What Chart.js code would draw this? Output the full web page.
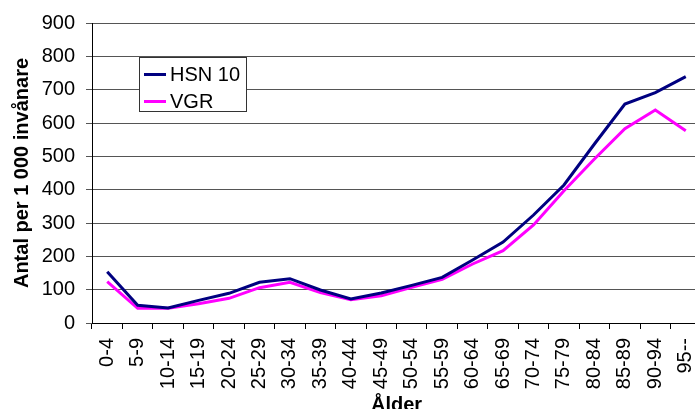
<!DOCTYPE html>
<html>
<head>
<meta charset="utf-8">
<script src="https://cdn.jsdelivr.net/npm/chart.js@4/dist/chart.umd.min.js"></script>
<style>
  html, body { margin: 0; padding: 0; background: #fff; overflow: hidden; }
  #wrap { position: relative; width: 702px; height: 420px; }
  #legend {
    position: absolute; left: 139px; top: 57px; width: 106px; height: 53px;
    border: 1px solid #333; background: #fff;
    font-family: 'Liberation Sans', Arial, sans-serif; font-size: 20px; color: #000;
  }
  #legend .row { position: absolute; left: 4px; height: 24px; line-height: 24px; white-space: nowrap; }
  #legend .swatch { display: inline-block; width: 22px; height: 3px; vertical-align: middle; margin-right: 4px; position: relative; top: -1px; }
</style>
</head>
<body>
<div id="wrap">
  <canvas id="chart" width="702" height="420"></canvas>
  <div id="legend"></div>
</div>
<script>
// Age groups on the x axis
const ageGroups = ['0-4', '5-9', '10-14', '15-19', '20-24', '25-29', '30-34', '35-39', '40-44', '45-49',
  '50-54', '55-59', '60-64', '65-69', '70-74', '75-79', '80-84', '85-89', '90-94', '95--'];

// Antal per 1 000 invånare
const hsn10 = [154, 53, 45, 68, 89, 122, 133, 99, 72, 90, 113, 137, 189, 243, 324, 414, 537, 657, 691, 739];
const vgr = [124, 44, 44, 58, 74, 106, 122, 91, 70, 82, 107, 131, 177, 217, 294, 397, 492, 583, 639, 577];

const seriesNames = ['HSN 10', 'VGR'];
const seriesColors = ['#000080', '#ff00ff'];

Chart.defaults.font.family = "'Liberation Sans', Arial, sans-serif";
Chart.defaults.font.size = 20;
Chart.defaults.color = '#000';

const canvas = document.getElementById('chart');
const context = canvas.getContext('2d');

const chart = new Chart(context, {
  type: 'line',
  data: {
    labels: ageGroups,
    datasets: [
      {
        label: seriesNames[0],
        data: hsn10,
        borderColor: seriesColors[0],
        backgroundColor: seriesColors[0],
        borderWidth: 3,
        pointRadius: 0,
        tension: 0
      },
      {
        label: seriesNames[1],
        data: vgr,
        borderColor: seriesColors[1],
        backgroundColor: seriesColors[1],
        borderWidth: 3,
        pointRadius: 0,
        tension: 0
      }
    ]
  },
  options: {
    responsive: false,
    animation: false,
    devicePixelRatio: 1,
    layout: {
      padding: { top: 23, right: 1, left: 0, bottom: 0 }
    },
    plugins: {
      legend: { display: false },
      tooltip: { enabled: false }
    },
    scales: {
      x: {
        offset: true,
        grid: {
          offset: true,
          drawOnChartArea: false,
          drawTicks: true,
          tickLength: 6,
          color: '#000'
        },
        border: { color: '#000', width: 1 },
        ticks: {
          autoSkip: false,
          minRotation: 90,
          maxRotation: 90,
          padding: 9
        },
        title: {
          display: true,
          text: 'Ålder',
          font: { weight: 'bold', size: 20 },
          padding: { top: 0, bottom: 3 }
        },
        afterFit: scale => {
          scale.height = 420 - 323;
          scale.paddingLeft = 0;
          scale.paddingRight = 0;
        }
      },
      y: {
        min: 0,
        max: 900,
        grid: {
          color: '#555',
          tickLength: 6
        },
        border: { color: '#000', width: 1 },
        ticks: {
          stepSize: 100,
          padding: 11
        },
        title: {
          display: true,
          text: 'Antal per 1 000 invånare',
          font: { weight: 'bold', size: 20 },
          padding: { top: 10, bottom: 0 }
        },
        afterFit: scale => { scale.width = 92; }
      }
    }
  }
});

// Legend box inside the plot, built from the datasets
const legendBox = document.getElementById('legend');
chart.data.datasets.forEach((ds, i) => {
  const row = document.createElement('div');
  row.className = 'row';
  row.style.top = (4 + i * 27) + 'px';
  const swatch = document.createElement('span');
  swatch.className = 'swatch';
  swatch.style.background = ds.borderColor;
  row.appendChild(swatch);
  row.appendChild(document.createTextNode(ds.label));
  legendBox.appendChild(row);
});
</script>
</body>
</html>
